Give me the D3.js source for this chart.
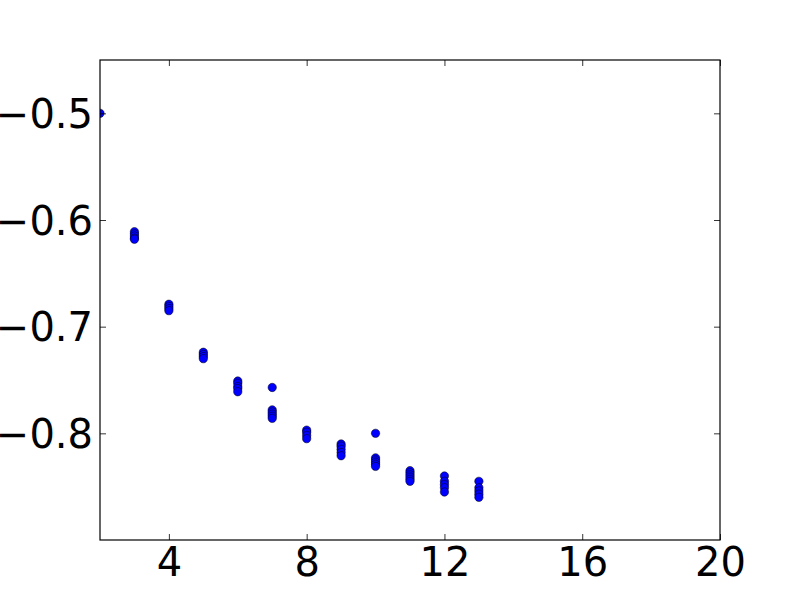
<!DOCTYPE html>
<html>
<head>
<meta charset="utf-8">
<script src="https://cdn.jsdelivr.net/npm/d3@7"></script>
<style>
  body { margin: 0; background: #fff; }
  text { font-family: 'DejaVu Sans', sans-serif; }
</style>
</head>
<body>
<div id="chart"></div>
<script>
// x position of each group and the y values
var groupX = [2, 3, 4, 5, 6, 7, 8, 9, 10, 11, 12, 13];
var groupY = [
    [-0.500],
    [-0.611, -0.613, -0.615, -0.617, -0.618],
    [-0.679, -0.681, -0.683, -0.685],
    [-0.724, -0.726, -0.728, -0.730],
    [-0.751, -0.753, -0.756, -0.758, -0.761],
    [-0.757, -0.778, -0.780, -0.782, -0.784, -0.786],
    [-0.797, -0.799, -0.802, -0.805],
    [-0.810, -0.812, -0.815, -0.818, -0.821],
    [-0.800, -0.823, -0.825, -0.827, -0.829, -0.831],
    [-0.835, -0.837, -0.839, -0.841, -0.843, -0.845],
    [-0.840, -0.845, -0.848, -0.851, -0.855],
    [-0.845, -0.851, -0.854, -0.857, -0.860]
];
var xTicks = [4, 8, 12, 16, 20];
var yTicks = [-0.5, -0.6, -0.7, -0.8];

var width = 800,
    height = 600;
var margin = { top: 60, bottom: 60, left: 100, right: 80 };
var innerW = width - margin.left - margin.right,
    innerH = height - margin.top - margin.bottom;

var svg = d3.select('#chart')
    .append('svg')
    .attr('width', width)
    .attr('height', height);

var g = svg.append('g')
    .attr('transform', 'translate(' + margin.left + ',' + margin.top + ')');

var x = d3.scaleLinear().domain([2, 20]).range([0, innerW]);
var y = d3.scaleLinear().domain([-0.9, -0.45]).range([innerH, 0]);

svg.append('defs').append('clipPath')
    .attr('id', 'clip')
    .append('rect')
    .attr('width', innerW)
    .attr('height', innerH);

// flatten the groups into points
var points = [];
groupX.forEach(function(gx, i) {
    groupY[i].forEach(function(v) {
        points.push({ x: gx, y: v });
    });
});

g.append('g')
    .attr('clip-path', 'url(#clip)')
    .selectAll('circle')
    .data(points)
    .enter()
    .append('circle')
    .attr('cx', function(d) { return x(d.x); })
    .attr('cy', function(d) { return y(d.y); })
    .attr('r', 4.2)
    .attr('fill', '#0000ff')
    .attr('stroke', '#000')
    .attr('stroke-width', 0.5);

var fmtY = function(d) { return d3.format('.1f')(d).replace('-', '\u2212'); };
var tickLen = 6;

// axes with inward ticks, labels only on bottom and left
var axBottom = g.append('g')
    .attr('transform', 'translate(0,' + innerH + ')')
    .call(d3.axisBottom(x).tickValues(xTicks).tickSizeInner(-tickLen).tickSizeOuter(0));
var axTop = g.append('g')
    .call(d3.axisTop(x).tickValues(xTicks).tickSizeInner(-tickLen).tickSizeOuter(0).tickFormat(''));
var axLeft = g.append('g')
    .call(d3.axisLeft(y).tickValues(yTicks).tickSizeInner(-tickLen).tickSizeOuter(0).tickFormat(fmtY));
var axRight = g.append('g')
    .attr('transform', 'translate(' + innerW + ',0)')
    .call(d3.axisRight(y).tickValues(yTicks).tickSizeInner(-tickLen).tickSizeOuter(0).tickFormat(''));

[axBottom, axTop, axLeft, axRight].forEach(function(a) {
    a.select('.domain').remove();
    a.selectAll('line').attr('stroke', '#000').attr('stroke-width', 0.8);
    a.selectAll('text').attr('fill', '#000').style('font-size', '40px').style('font-family', "'DejaVu Sans', sans-serif");
});
axBottom.selectAll('text').attr('dy', '0.71em').attr('y', 8);
axLeft.selectAll('text').attr('x', -7).attr('dy', '0.35em');

g.append('rect')
    .attr('width', innerW)
    .attr('height', innerH)
    .attr('fill', 'none')
    .attr('stroke', '#000')
    .attr('stroke-width', 1.2);
</script>
</body>
</html>
